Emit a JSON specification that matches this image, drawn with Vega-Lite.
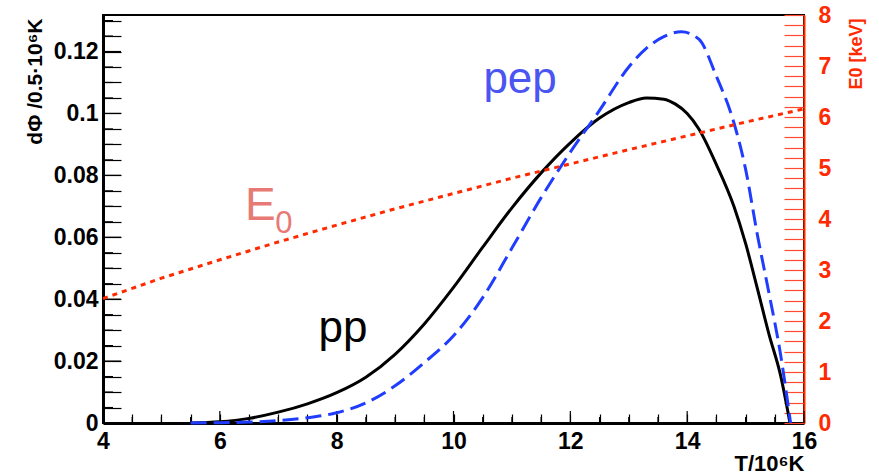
{
  "$schema": "https://vega.github.io/schema/vega-lite/v6.json",
  "width": 701,
  "height": 408,
  "autosize": {"type": "none"},
  "padding": {"left": 103, "top": 15, "right": 75, "bottom": 51},
  "background": "white",
  "config": {"view": {"stroke": "black", "strokeWidth": 2}, "font": "Liberation Sans"},
  "datasets": {
    "curves": [
      {"T": 5.5, "v": 0.0, "series": "pp"},
      {"T": 6.0, "v": 0.0004, "series": "pp"},
      {"T": 6.5, "v": 0.0015, "series": "pp"},
      {"T": 7.0, "v": 0.0035, "series": "pp"},
      {"T": 7.5, "v": 0.0062, "series": "pp"},
      {"T": 8.0, "v": 0.0098, "series": "pp"},
      {"T": 8.5, "v": 0.0148, "series": "pp"},
      {"T": 9.0, "v": 0.0222, "series": "pp"},
      {"T": 9.5, "v": 0.032, "series": "pp"},
      {"T": 10.0, "v": 0.0438, "series": "pp"},
      {"T": 10.5, "v": 0.0568, "series": "pp"},
      {"T": 11.0, "v": 0.0695, "series": "pp"},
      {"T": 11.5, "v": 0.0808, "series": "pp"},
      {"T": 12.0, "v": 0.0905, "series": "pp"},
      {"T": 12.5, "v": 0.0985, "series": "pp"},
      {"T": 13.0, "v": 0.1035, "series": "pp"},
      {"T": 13.3, "v": 0.105, "series": "pp"},
      {"T": 13.6, "v": 0.1046, "series": "pp"},
      {"T": 13.8, "v": 0.103, "series": "pp"},
      {"T": 14.0, "v": 0.1, "series": "pp"},
      {"T": 14.2, "v": 0.095, "series": "pp"},
      {"T": 14.5, "v": 0.0835, "series": "pp"},
      {"T": 14.8, "v": 0.07, "series": "pp"},
      {"T": 15.0, "v": 0.058, "series": "pp"},
      {"T": 15.2, "v": 0.0436, "series": "pp"},
      {"T": 15.4, "v": 0.0287, "series": "pp"},
      {"T": 15.6, "v": 0.0153, "series": "pp"},
      {"T": 15.76, "v": 0.0, "series": "pp"},
      {"T": 5.5, "v": 0.0, "series": "pep"},
      {"T": 6.0, "v": 0.0001, "series": "pep"},
      {"T": 6.5, "v": 0.0003, "series": "pep"},
      {"T": 7.0, "v": 0.0008, "series": "pep"},
      {"T": 7.5, "v": 0.0017, "series": "pep"},
      {"T": 8.0, "v": 0.0033, "series": "pep"},
      {"T": 8.5, "v": 0.0065, "series": "pep"},
      {"T": 9.0, "v": 0.012, "series": "pep"},
      {"T": 9.5, "v": 0.0195, "series": "pep"},
      {"T": 10.0, "v": 0.0282, "series": "pep"},
      {"T": 10.5, "v": 0.0405, "series": "pep"},
      {"T": 11.0, "v": 0.0565, "series": "pep"},
      {"T": 11.5, "v": 0.0728, "series": "pep"},
      {"T": 12.0, "v": 0.0875, "series": "pep"},
      {"T": 12.5, "v": 0.101, "series": "pep"},
      {"T": 13.0, "v": 0.115, "series": "pep"},
      {"T": 13.3, "v": 0.121, "series": "pep"},
      {"T": 13.6, "v": 0.1248, "series": "pep"},
      {"T": 13.9, "v": 0.1264, "series": "pep"},
      {"T": 14.2, "v": 0.124, "series": "pep"},
      {"T": 14.5, "v": 0.112, "series": "pep"},
      {"T": 14.8, "v": 0.097, "series": "pep"},
      {"T": 15.0, "v": 0.082, "series": "pep"},
      {"T": 15.2, "v": 0.061, "series": "pep"},
      {"T": 15.4, "v": 0.042, "series": "pep"},
      {"T": 15.6, "v": 0.022, "series": "pep"},
      {"T": 15.77, "v": 0.0, "series": "pep"}
    ],
    "e0": [
      {"T": 4, "E": 2.44},
      {"T": 5, "E": 2.84},
      {"T": 6, "E": 3.2},
      {"T": 7, "E": 3.55},
      {"T": 8, "E": 3.88},
      {"T": 9, "E": 4.2},
      {"T": 10, "E": 4.5},
      {"T": 11, "E": 4.8},
      {"T": 12, "E": 5.08},
      {"T": 13, "E": 5.36},
      {"T": 14, "E": 5.63},
      {"T": 15, "E": 5.9},
      {"T": 16, "E": 6.16}
    ],
    "labels": [
      {"T": 8.11, "v": 0.0261, "label": "pp"},
      {"T": 11.14, "v": 0.1065, "label": "pep"},
      {"T": 6.43, "v": 0.0655, "label": "E"},
      {"T": 6.95, "v": 0.0613, "label": "0"}
    ],
    "yticks": [
      {"v": 0}, {"v": 0.005}, {"v": 0.01}, {"v": 0.015}, {"v": 0.02}, {"v": 0.025}, {"v": 0.03}, {"v": 0.035}, {"v": 0.04}, {"v": 0.045},
      {"v": 0.05}, {"v": 0.055}, {"v": 0.06}, {"v": 0.065}, {"v": 0.07}, {"v": 0.075}, {"v": 0.08}, {"v": 0.085}, {"v": 0.09}, {"v": 0.095},
      {"v": 0.1}, {"v": 0.105}, {"v": 0.11}, {"v": 0.115}, {"v": 0.12}, {"v": 0.125}, {"v": 0.13}
    ],
    "xticks": [
      {"t": 4}, {"t": 4.5}, {"t": 5}, {"t": 5.5}, {"t": 6}, {"t": 6.5}, {"t": 7}, {"t": 7.5}, {"t": 8}, {"t": 8.5}, {"t": 9}, {"t": 9.5}, {"t": 10},
      {"t": 10.5}, {"t": 11}, {"t": 11.5}, {"t": 12}, {"t": 12.5}, {"t": 13}, {"t": 13.5}, {"t": 14}, {"t": 14.5}, {"t": 15}, {"t": 15.5}, {"t": 16}
    ]
  },
  "layer": [
    {
      "data": {"name": "yticks"},
      "transform": [{"filter": "abs(datum.v*50 - round(datum.v*50)) < 0.000001"}],
      "mark": {"type": "rule", "color": "black", "strokeWidth": 1.2, "x2Offset": 18},
      "encoding": {
        "y": {"field": "v", "type": "quantitative", "scale": {"domain": [0, 0.1318], "nice": false, "zero": true}, "axis": null},
        "x": {"datum": 4, "type": "quantitative", "scale": {"domain": [4, 16], "nice": false, "zero": false}, "axis": null},
        "x2": {"datum": 4}
      }
    },
    {
      "data": {"name": "yticks"},
      "transform": [{"filter": "abs(datum.v*50 - round(datum.v*50)) >= 0.000001"}],
      "mark": {"type": "rule", "color": "black", "strokeWidth": 1.2, "x2Offset": 10},
      "encoding": {
        "y": {"field": "v", "type": "quantitative", "scale": {"domain": [0, 0.1318], "nice": false, "zero": true}, "axis": null},
        "x": {"datum": 4, "type": "quantitative", "scale": {"domain": [4, 16], "nice": false, "zero": false}, "axis": null},
        "x2": {"datum": 4}
      }
    },
    {
      "data": {"name": "xticks"},
      "transform": [{"filter": "abs(datum.t/2 - round(datum.t/2)) < 0.000001"}],
      "mark": {"type": "rule", "color": "black", "strokeWidth": 1.2, "y2Offset": -12},
      "encoding": {
        "x": {"field": "t", "type": "quantitative", "scale": {"domain": [4, 16], "nice": false, "zero": false}, "axis": null},
        "y": {"datum": 0, "type": "quantitative", "scale": {"domain": [0, 0.1318], "nice": false, "zero": true}, "axis": null},
        "y2": {"datum": 0}
      }
    },
    {
      "data": {"name": "xticks"},
      "transform": [{"filter": "abs(datum.t/2 - round(datum.t/2)) >= 0.000001"}],
      "mark": {"type": "rule", "color": "black", "strokeWidth": 1.2, "y2Offset": -6},
      "encoding": {
        "x": {"field": "t", "type": "quantitative", "scale": {"domain": [4, 16], "nice": false, "zero": false}, "axis": null},
        "y": {"datum": 0, "type": "quantitative", "scale": {"domain": [0, 0.1318], "nice": false, "zero": true}, "axis": null},
        "y2": {"datum": 0}
      }
    },
    {
      "data": {"name": "curves"},
      "transform": [{"filter": "datum.series === 'pp'"}],
      "mark": {"type": "line", "color": "black", "strokeWidth": 3, "interpolate": "monotone"},
      "encoding": {
        "x": {"field": "T", "type": "quantitative", "scale": {"domain": [4, 16], "nice": false, "zero": false}, "axis": null},
        "y": {
          "field": "v",
          "type": "quantitative",
          "scale": {"domain": [0, 0.1318], "nice": false, "zero": true},
          "axis": {
            "values": [0, 0.005, 0.01, 0.015, 0.02, 0.025, 0.03, 0.035, 0.04, 0.045, 0.05, 0.055, 0.06, 0.065, 0.07, 0.075, 0.08, 0.085, 0.09, 0.095, 0.1, 0.105, 0.11, 0.115, 0.12, 0.125, 0.13],
            "labelExpr": "abs(datum.value*50 - round(datum.value*50)) < 0.000001 ? format(datum.value, '~g') : ''",
            "labelOverlap": false,
            "labelFlush": false,
            "labelBound": false,
            "labelFont": "Liberation Sans",
            "labelFontWeight": "bold",
            "labelFontSize": 23,
            "labelColor": "black",
            "labelPadding": 23,
            "ticks": true,
            "tickSize": -18,
            "tickColor": "black",
            "tickWidth": 1.2,
            "encoding": {
              "ticks": {"update": {"x2": {"signal": "abs(datum.value*50 - round(datum.value*50)) < 0.000001 ? 18 : 10"}}}
            },
            "domainColor": "black",
            "domainWidth": 3,
            "grid": false,
            "title": "dΦ /0.5·10⁶K",
            "titleFont": "Liberation Sans",
            "titleFontWeight": "bold",
            "titleFontSize": 21,
            "titleColor": "black",
            "titleAngle": -90,
            "titleAnchor": "end",
            "titleAlign": "right",
            "titleBaseline": "middle",
            "titleX": -68,
            "titleY": 3
          }
        }
      }
    },
    {
      "data": {"name": "curves"},
      "transform": [{"filter": "datum.series === 'pep'"}],
      "mark": {"type": "line", "color": "#1f3cff", "strokeWidth": 3, "strokeDash": [16, 7], "interpolate": "monotone"},
      "encoding": {
        "x": {
          "field": "T",
          "type": "quantitative",
          "scale": {"domain": [4, 16], "nice": false, "zero": false},
          "axis": {
            "values": [4, 4.5, 5, 5.5, 6, 6.5, 7, 7.5, 8, 8.5, 9, 9.5, 10, 10.5, 11, 11.5, 12, 12.5, 13, 13.5, 14, 14.5, 15, 15.5, 16],
            "labelExpr": "abs(datum.value/2 - round(datum.value/2)) < 0.000001 ? format(datum.value, 'd') : ''",
            "labelOverlap": false,
            "labelFlush": false,
            "labelBound": false,
            "labelFont": "Liberation Sans",
            "labelFontWeight": "bold",
            "labelFontSize": 23,
            "labelColor": "black",
            "labelPadding": 16,
            "ticks": true,
            "tickSize": -9,
            "tickColor": "black",
            "tickWidth": 1.2,
            "domainColor": "black",
            "domainWidth": 3,
            "grid": false,
            "title": "T/10⁶K",
            "titleFont": "Liberation Sans",
            "titleFontWeight": "bold",
            "titleFontSize": 22,
            "titleColor": "black",
            "titleAnchor": "end",
            "titleAlign": "right",
            "titleBaseline": "alphabetic",
            "titleX": 701,
            "titleY": 47
          }
        },
        "y": {"field": "v", "type": "quantitative", "scale": {"domain": [0, 0.1318], "nice": false, "zero": true}, "axis": null}
      }
    },
    {
      "data": {"name": "labels"},
      "transform": [{"filter": "datum.label === 'pp'"}],
      "mark": {"type": "text", "color": "black", "font": "Liberation Sans", "fontSize": 44, "align": "center", "baseline": "alphabetic"},
      "encoding": {
        "x": {"field": "T", "type": "quantitative", "scale": {"domain": [4, 16], "nice": false, "zero": false}, "axis": null},
        "y": {"field": "v", "type": "quantitative", "scale": {"domain": [0, 0.1318], "nice": false, "zero": true}, "axis": null},
        "text": {"field": "label"}
      }
    },
    {
      "data": {"name": "labels"},
      "transform": [{"filter": "datum.label === 'pep'"}],
      "mark": {"type": "text", "color": "#4b55f2", "font": "Liberation Sans", "fontSize": 44, "align": "center", "baseline": "alphabetic"},
      "encoding": {
        "x": {"field": "T", "type": "quantitative", "scale": {"domain": [4, 16], "nice": false, "zero": false}, "axis": null},
        "y": {"field": "v", "type": "quantitative", "scale": {"domain": [0, 0.1318], "nice": false, "zero": true}, "axis": null},
        "text": {"field": "label"}
      }
    },
    {
      "data": {"name": "labels"},
      "transform": [{"filter": "datum.label === 'E'"}],
      "mark": {"type": "text", "color": "#e87a76", "font": "Liberation Sans", "fontSize": 46, "align": "left", "baseline": "alphabetic"},
      "encoding": {
        "x": {"field": "T", "type": "quantitative", "scale": {"domain": [4, 16], "nice": false, "zero": false}, "axis": null},
        "y": {"field": "v", "type": "quantitative", "scale": {"domain": [0, 0.1318], "nice": false, "zero": true}, "axis": null},
        "text": {"field": "label"}
      }
    },
    {
      "data": {"name": "labels"},
      "transform": [{"filter": "datum.label === '0'"}],
      "mark": {"type": "text", "color": "#e87a76", "font": "Liberation Sans", "fontSize": 31, "align": "left", "baseline": "alphabetic"},
      "encoding": {
        "x": {"field": "T", "type": "quantitative", "scale": {"domain": [4, 16], "nice": false, "zero": false}, "axis": null},
        "y": {"field": "v", "type": "quantitative", "scale": {"domain": [0, 0.1318], "nice": false, "zero": true}, "axis": null},
        "text": {"field": "label"}
      }
    },
    {
      "data": {"name": "e0"},
      "mark": {"type": "line", "color": "#ff2a00", "strokeWidth": 3, "strokeDash": [5, 5], "strokeCap": "butt"},
      "encoding": {
        "x": {"field": "T", "type": "quantitative", "scale": {"domain": [4, 16], "nice": false, "zero": false}, "axis": null},
        "y": {
          "field": "E",
          "type": "quantitative",
          "scale": {"domain": [0, 8], "nice": false, "zero": true},
          "axis": {
            "orient": "right",
            "values": [0, 0.2, 0.4, 0.6, 0.8, 1, 1.2, 1.4, 1.6, 1.8, 2, 2.2, 2.4, 2.6, 2.8, 3, 3.2, 3.4, 3.6, 3.8, 4, 4.2, 4.4, 4.6, 4.8, 5, 5.2, 5.4, 5.6, 5.8, 6, 6.2, 6.4, 6.6, 6.8, 7, 7.2, 7.4, 7.6, 7.8, 8],
            "labelExpr": "abs(datum.value - round(datum.value)) < 0.000001 ? format(round(datum.value), 'd') : ''",
            "labelOverlap": false,
            "labelFlush": false,
            "labelBound": false,
            "labelFont": "Liberation Sans",
            "labelFontWeight": "bold",
            "labelFontSize": 23,
            "labelColor": "#ff2a00",
            "labelPadding": 34,
            "ticks": true,
            "tickSize": -20,
            "tickColor": "#ff4a30",
            "tickWidth": 1.2,
            "encoding": {
              "ticks": {"update": {"x2": {"signal": "abs(datum.value - round(datum.value)) < 0.000001 ? -20 : -10"}}}
            },
            "domainColor": "#ff2a00",
            "domainWidth": 2,
            "grid": false,
            "title": "E0 [keV]",
            "titleFont": "Liberation Sans",
            "titleFontWeight": "bold",
            "titleFontSize": 18,
            "titleColor": "#ff2a00",
            "titleAngle": -90,
            "titleAnchor": "end",
            "titleAlign": "right",
            "titleBaseline": "middle",
            "titleX": 52,
            "titleY": 3
          }
        }
      }
    }
  ],
  "resolve": {"scale": {"x": "independent", "y": "independent"}}
}
